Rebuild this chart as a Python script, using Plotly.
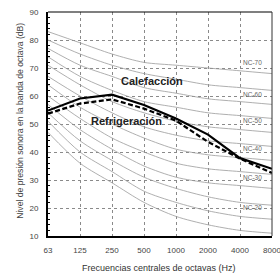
import plotly.graph_objects as go

freq_labels = ["63", "125", "250", "500", "1000", "2000", "4000", "8000"]
x_idx = list(range(len(freq_labels)))

nc_15 = [47, 36, 29, 22, 17, 14, 12, 11]
nc_20 = [51, 40, 33, 26, 22, 19, 17, 16]
nc_25 = [54, 44, 37, 31, 27, 24, 22, 21]
nc_30 = [57, 48, 41, 35, 31, 29, 28, 27]
nc_35 = [60, 52, 45, 40, 36, 34, 33, 32]
nc_40 = [64, 56, 50, 45, 41, 39, 38, 37]
nc_45 = [67, 60, 54, 49, 46, 44, 43, 42]
nc_50 = [71, 64, 58, 54, 51, 49, 48, 47]
nc_55 = [74, 67, 62, 58, 56, 54, 53, 52]
nc_60 = [77, 71, 67, 63, 61, 59, 58, 57]
nc_65 = [80, 75, 71, 68, 66, 64, 63, 62]
nc_70 = [83, 79, 75, 72, 71, 70, 69, 68]
nc_curves = [nc_15, nc_20, nc_25, nc_30, nc_35, nc_40, nc_45, nc_50, nc_55, nc_60, nc_65, nc_70]

calefaccion = [54.8, 59.1, 60.5, 56.8, 52.0, 46.2, 37.8, 34.0]
refrigeracion = [53.7, 57.3, 58.8, 55.5, 51.2, 43.6, 37.6, 32.5]

nc_label_text = ["NC-70", "NC-60", "NC-50", "NC-40", "NC-30", "NC-20"]
nc_label_y = [72.1, 60.6, 51.2, 41.1, 31.0, 20.2]

fig = go.Figure()
for c in nc_curves:
    fig.add_trace(go.Scatter(x=x_idx, y=c, mode="lines",
                             line=dict(color="#9a9a9a", width=0.8, shape="spline", smoothing=0.8),
                             hoverinfo="skip", showlegend=False))

fig.add_trace(go.Scatter(x=x_idx, y=calefaccion, mode="lines",
                         line=dict(color="black", width=2.2), showlegend=False))
fig.add_trace(go.Scatter(x=x_idx, y=refrigeracion, mode="lines",
                         line=dict(color="black", width=2.2, dash="5px,2.5px"), showlegend=False))

for t, yv in zip(nc_label_text, nc_label_y):
    fig.add_annotation(x=6.38, y=yv, text=t, showarrow=False,
                       font=dict(size=6.5, color="#666666", family="Liberation Sans, Arial"))

fig.add_annotation(x=3.25, y=65.5, text="<b>Calefacción</b>", showarrow=False,
                   font=dict(size=11, color="#222222", family="Liberation Sans, Arial"))
fig.add_annotation(x=2.44, y=51.2, text="<b>Refrigeración</b>", showarrow=False,
                   font=dict(size=11, color="#222222", family="Liberation Sans, Arial"))

fig.add_annotation(xref="paper", yref="paper", x=(159 - 48) / 224, y=-(275 - 236) / 223.5,
                   text="Frecuencias centrales de octavas (Hz)", showarrow=False,
                   font=dict(size=9, color="#333333", family="Liberation Sans, Arial"))
fig.add_annotation(xref="paper", yref="paper", x=-(48 - 13) / 224, y=(236 - 121) / 223.5,
                   text="Nivel de presión sonora en la banda de octava (dB)", showarrow=False,
                   textangle=-90,
                   font=dict(size=8.6, color="#444444", family="Liberation Sans, Arial"))

fig.add_shape(type="line", xref="paper", yref="paper", x0=0, x1=1, y0=1, y1=1,
              line=dict(color="black", width=1.2))
fig.add_shape(type="line", xref="paper", yref="paper", x0=1, x1=1, y0=0, y1=1,
              line=dict(color="#333333", width=1))

fig.update_layout(
    width=280, height=280,
    margin=dict(l=48, r=8, t=12, b=44, autoexpand=False),
    paper_bgcolor="white", plot_bgcolor="white",
    font=dict(family="Liberation Sans, Arial", size=8, color="#444444"),
    xaxis=dict(range=[0, 7], tickvals=x_idx, ticktext=freq_labels,
               showgrid=True, gridcolor="#8a8a8a", griddash="dot", gridwidth=1,
               showline=True, linecolor="black", linewidth=2, zeroline=False,
               ticks="", tickfont=dict(size=8, color="#444444"), ticklabelstandoff=5,
               ticklabeloverflow="allow", automargin=False),
    yaxis=dict(range=[10, 90], dtick=10, tick0=10,
               showgrid=True, gridcolor="#8a8a8a", griddash="dot", gridwidth=1,
               showline=True, linecolor="black", linewidth=2, zeroline=False,
               ticks="", tickfont=dict(size=8, color="#444444"), ticklabelstandoff=6,
               automargin=False,
               minor=dict(ticks="inside", dtick=2, ticklen=2, tickcolor="black", showgrid=False)),
)

fig.write_html("out.html", config={"displayModeBar": False},
               post_script="document.body.style.margin='0';document.body.style.padding='0';")
